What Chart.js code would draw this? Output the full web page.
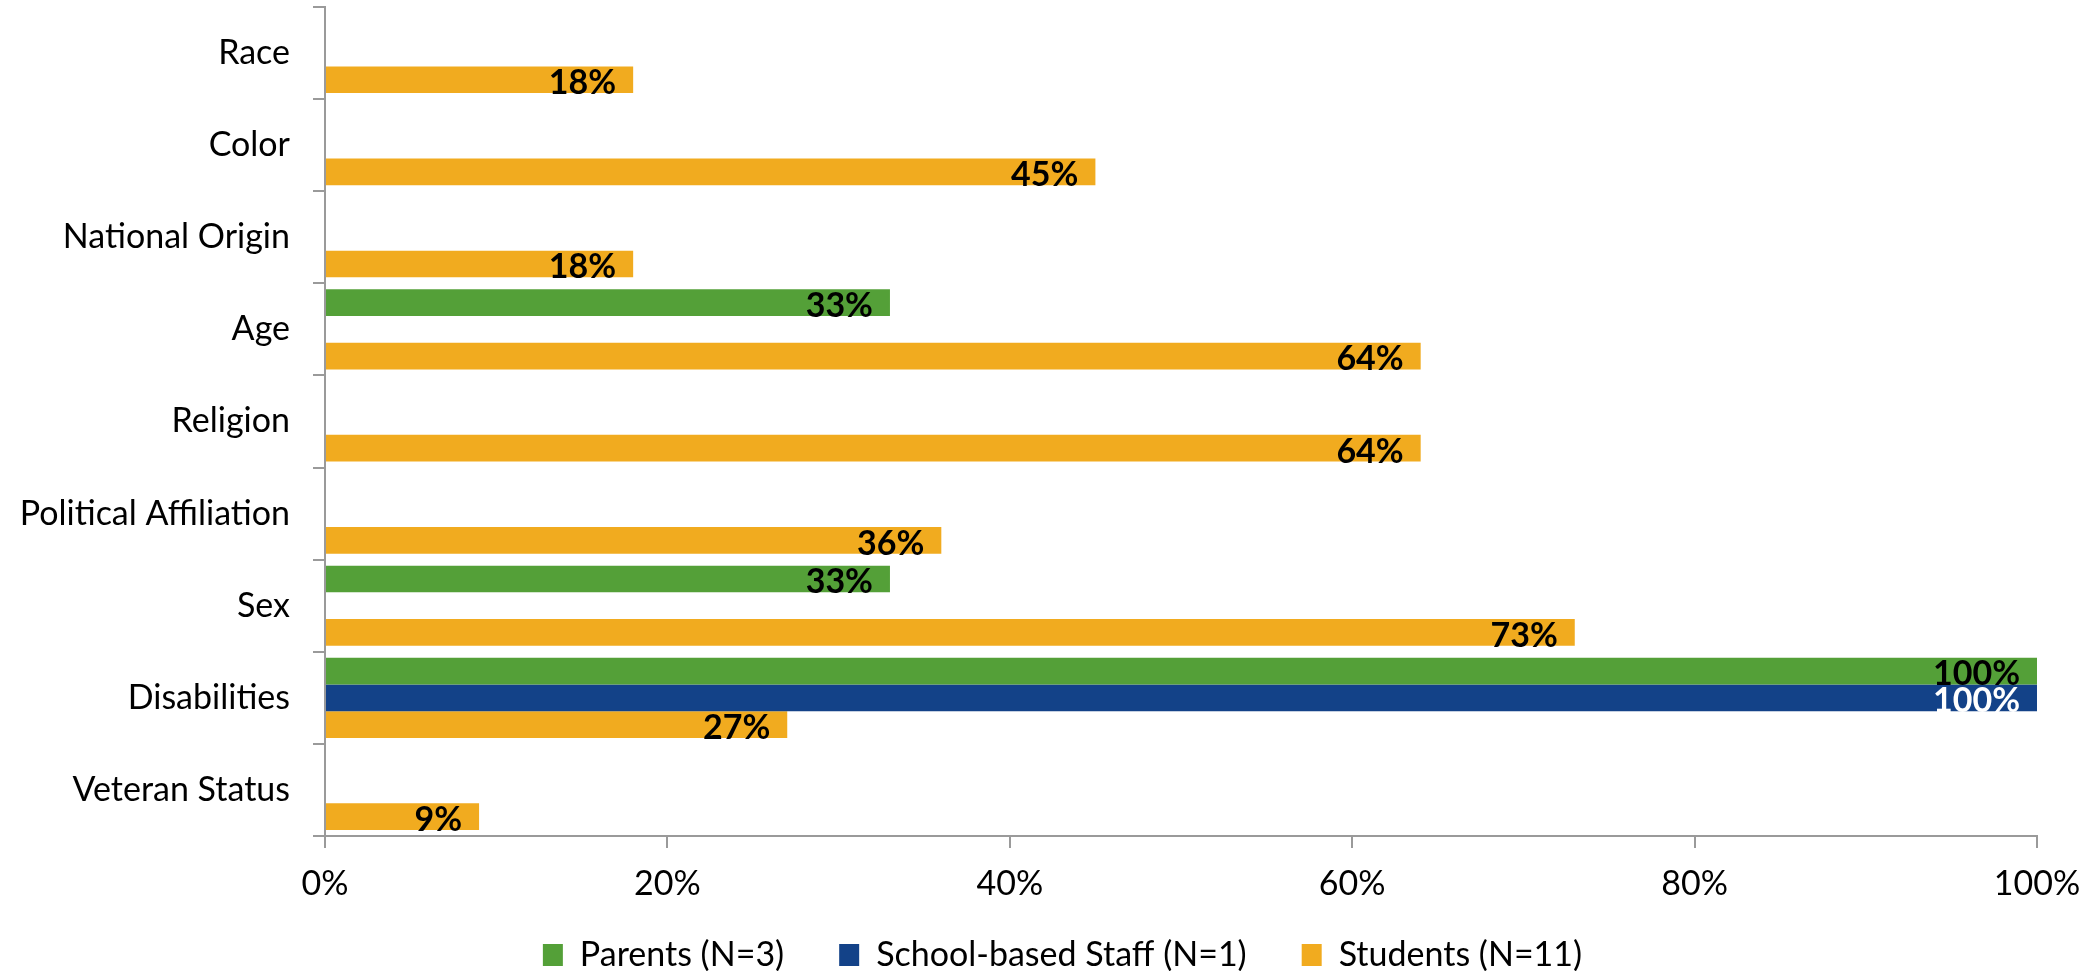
<!DOCTYPE html>
<html>
<head>
<meta charset="utf-8">
<script src="https://cdn.jsdelivr.net/npm/chart.js@4.4.1/dist/chart.umd.min.js"></script>
<style>
html,body{margin:0;padding:0;background:#fff;}
#wrap{width:2097px;height:971px;position:relative;}
</style>
</head>
<body>
<div id="wrap"><canvas id="c" width="2097" height="971"></canvas></div>
<script>
const categories = ['Race','Color','National Origin','Age','Religion','Political Affiliation','Sex','Disabilities','Veteran Status'];
const parents = [0,0,0,33,0,0,33,100,0];
const staff = [0,0,0,0,0,0,0,100,0];
const students = [18,45,18,64,64,36,73,27,9];
const xTicks = [0,20,40,60,80,100];
const seriesNames = ['Parents (N=3)','School-based Staff (N=1)','Students (N=11)'];

const FONT = 'Lato';
const FS = 34;
const AXIS = '#9a9a9a';
const LEGEND_TOP = 883;
const LEGEND_SHIFT_X = 44;

const barLabels = {
  id: 'barLabels',
  afterDatasetsDraw(chart) {
    const ctx = chart.ctx;
    ctx.save();
    ctx.font = 'bold ' + FS + 'px ' + FONT;
    ctx.textAlign = 'right';
    ctx.textBaseline = 'alphabetic';
    chart.data.datasets.forEach((ds, di) => {
      const meta = chart.getDatasetMeta(di);
      meta.data.forEach((bar, i) => {
        const v = ds.data[i];
        if (!v) return;
        ctx.fillStyle = ds.labelColor;
        ctx.fillText(v + '%', bar.x - 17, bar.y + bar.height / 2 + 1);
      });
    });
    ctx.restore();
  }
};

const legendShift = {
  id: 'legendShift',
  afterLayout(chart) {
    const lg = chart.legend;
    if (!lg) return;
    lg.top = LEGEND_TOP;
    lg.bottom = chart.height;
    lg.height = lg.bottom - lg.top;
    lg.left += LEGEND_SHIFT_X;
    lg.right += LEGEND_SHIFT_X;
  }
};

new Chart(document.getElementById('c'), {
  type: 'bar',
  data: {
    labels: categories,
    datasets: [
      {label: seriesNames[0], data: parents, backgroundColor: '#54A038', labelColor: '#000'},
      {label: seriesNames[1], data: staff, backgroundColor: '#134288', labelColor: '#fff'},
      {label: seriesNames[2], data: students, backgroundColor: '#F1AB1F', labelColor: '#000'}
    ]
  },
  options: {
    indexAxis: 'y',
    responsive: false,
    animation: false,
    devicePixelRatio: 1,
    layout: {padding: {top: 7, right: 60, left: 0, bottom: 2}},
    datasets: {bar: {categoryPercentage: 0.87, barPercentage: 1.0, borderWidth: 0}},
    scales: {
      x: {
        min: 0, max: 100,
        afterBuildTicks(scale) { scale.ticks = xTicks.map(v => ({value: v})); },
        ticks: {
          callback: v => v + '%',
          color: '#000',
          font: {family: FONT, size: FS},
          padding: 16
        },
        grid: {display: true, drawOnChartArea: false, drawTicks: true, tickLength: 12, color: AXIS, lineWidth: 2},
        border: {display: true, color: AXIS, width: 2},
        afterFit(scale) { scale.height = 82; scale.paddingLeft = 0; scale.paddingRight = 0; }
      },
      y: {
        ticks: {color: '#000', font: {family: FONT, size: FS}, padding: 23},
        grid: {display: true, drawOnChartArea: false, drawTicks: true, tickLength: 12, color: AXIS, lineWidth: 2, offset: true},
        border: {display: true, color: AXIS, width: 2},
        afterFit(scale) { scale.width = 325; scale.paddingTop = 0; scale.paddingBottom = 0; }
      }
    },
    plugins: {
      legend: {
        position: 'bottom',
        maxHeight: 51,
        labels: {
          color: '#000',
          font: {family: FONT, size: FS},
          boxWidth: 20, boxHeight: 22,
          padding: 55
        }
      },
      tooltip: {enabled: false}
    }
  },
  plugins: [barLabels, legendShift]
});
</script>
</body>
</html>
